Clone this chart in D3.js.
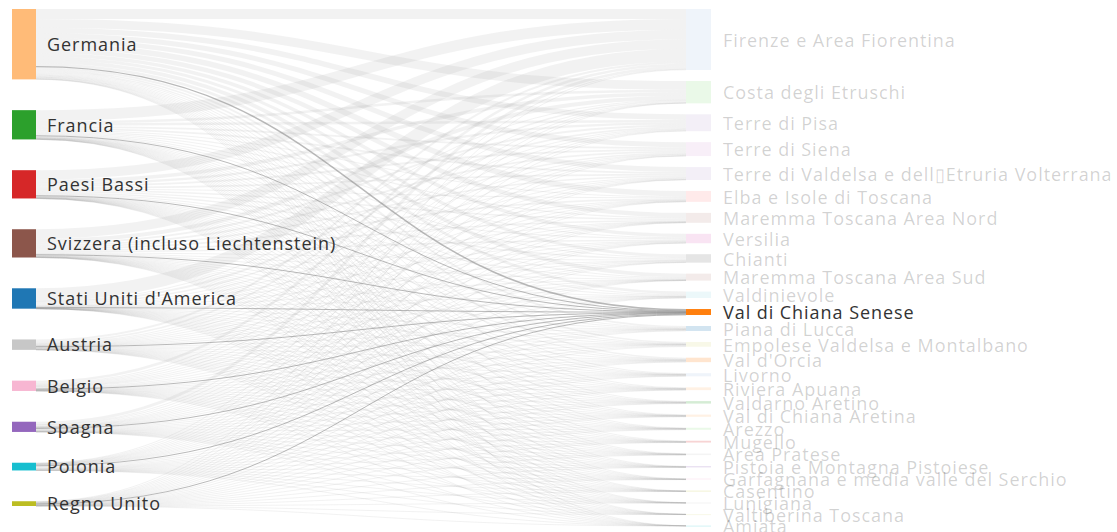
<!DOCTYPE html>
<html><head><meta charset="utf-8">
<script src="https://cdn.jsdelivr.net/npm/d3@7"></script>
<style>
body{margin:0;background:#fff}
svg{display:block}
text{font-family:"Open Sans","Noto Sans",sans-serif;font-size:18px;letter-spacing:0.95px}
</style>
</head><body><svg id="chart" width="1117" height="532"></svg>
<script>
// ---- data ----
const sources = ["Germania","Francia","Paesi Bassi","Svizzera (incluso Liechtenstein)","Stati Uniti d'America","Austria","Belgio","Spagna","Polonia","Regno Unito"];
const sourceColors = ["#ffbb78","#2ca02c","#d62728","#8c564b","#1f77b4","#c7c7c7","#f7b6d2","#9467bd","#17becf","#bcbd22"];
const targets = ["Firenze e Area Fiorentina","Costa degli Etruschi","Terre di Pisa","Terre di Siena","Terre di Valdelsa e dell\u25AFEtruria Volterrana","Elba e Isole di Toscana","Maremma Toscana Area Nord","Versilia","Chianti","Maremma Toscana Area Sud","Valdinievole","Val di Chiana Senese","Piana di Lucca","Empolese Valdelsa e Montalbano","Val d'Orcia","Livorno","Riviera Apuana","Valdarno Aretino","Val di Chiana Aretina","Arezzo","Mugello","Area Pratese","Pistoia e Montagna Pistoiese","Garfagnana e media valle del Serchio","Casentino","Lunigiana","Valtiberina Toscana","Amiata"];
const targetColors = ["#aec7e8","#98df8a","#c5b0d5","#dcb0dc","#c5b0d5","#ff9896","#c49c94","#e377c2","#7f7f7f","#c49c94","#9edae5","#ff7f0e","#1f77b4","#dbdb8d","#ff7f0e","#aec7e8","#ffbb78","#2ca02c","#ffbb78","#98df8a","#d62728","#c7c7c7","#9467bd","#f7b6d2","#bcbd22","#c7c7c7","#dbdb8d","#17becf"];
// flows: one row per source, one column per target
const flowsGermania = [100,89,55,50,50,55,45,35,30,38,26.5,15,18,15,14,9,10,8,7,6,7,5,6,6,4,2.5,2,1.5];
const flowsFrancia  = [110,25,25,18,18,10,12,10,10,8,9,6,5,5,4,3,2,2,2,2,2,1.5,1.5,1,1,0.8,0.7,0.5];
const flowsPaesiBassi = [95,35,22,18,17,8,15,12,15,9,9,5,4,3,3,2,2,2,2,1,1.5,1,1,1,0.5,0.4,0.3,0.3];
const flowsSvizzera = [95,40,20,18,15,17,15,15,8,7,5,5,4,3,4,2,2,2,1.5,1,1,1,1,0.8,0.6,0.5,0.3,0.3];
const flowsUSA      = [130,5,19,15,10,3,2,5,4,1,0.5,2,2,1,2,1,0.5,0.5,0.5,0.5,0.3,0.2,0.2,0.1,0.1,0.05,0.02,0.03];
const flowsAustria  = [20,16,6,5,5,6,3,4,2,2,2,5,3,3,4,3,3,2,2,2,1.5,1.5,1,0.8,0.8,0.5,0.5,0.4];
const flowsBelgio   = [25,7,8,5,8,4,3,7,9,2,6,3,2,2,2,2,1.5,1.5,1,1,1,0.8,0.7,0.5,0.4,0.25,0.2,0.15];
const flowsSpagna   = [30,3,7,8,3,3,1,3,3,1,2,6,4,5,4,4,3,3,2,2,1.2,1.5,1,0.6,0.6,0.4,0.4,0.3];
const flowsPolonia  = [5,3,4,1,1,2,3,2,1,1,3,10,6,8,5,4,3,3,3,3,1.5,2,1,0.8,0.7,0.4,0.3,0.3];
const flowsRegnoUnito = [5,2,4,2,3,2,1,2,3,1,2,3,2,3,3,2,1,1,1,1.5,1,0.5,0.6,0.4,0.3,0.2,0.28,0.22];
const flows = [flowsGermania,flowsFrancia,flowsPaesiBassi,flowsSvizzera,flowsUSA,flowsAustria,flowsBelgio,flowsSpagna,flowsPolonia,flowsRegnoUnito];
const highlighted = "Val di Chiana Senese";

// ---- layout ----
const svg = d3.select("#chart");
const leftX = [12, 36], rightX = [686, 711];
const leftY = [9, 506], rightY = [9, 526];
const rightPad = 11;
const srcTotals = flows.map(r => d3.sum(r));
const tgtTotals = targets.map((t, j) => d3.sum(flows, r => r[j]));
const total = d3.sum(srcTotals);
const ky = (rightY[1] - rightY[0] - (targets.length - 1) * rightPad) / total;
const vScale = d3.scaleLinear().domain([0, total]).range([0, total * ky]);
const leftPad = (leftY[1] - leftY[0] - vScale(total)) / (sources.length - 1);

let y = leftY[0];
const sNodes = sources.map((name, i) => {
  const n = {name, color: sourceColors[i], x0: leftX[0], x1: leftX[1], y0: y, y1: y + vScale(srcTotals[i])};
  y = n.y1 + leftPad; return n;
});
y = rightY[0];
const tNodes = targets.map((name, j) => {
  const n = {name, color: targetColors[j], x0: rightX[0], x1: rightX[1], y0: y, y1: y + vScale(tgtTotals[j])};
  y = n.y1 + rightPad; return n;
});

const links = [];
const sOff = sNodes.map(n => n.y0), tOff = tNodes.map(n => n.y0);
flows.forEach((row, i) => row.forEach((val, j) => {
  const w = vScale(val);
  links.push({w, hl: targets[j] === highlighted,
    x0: sNodes[i].x1, y0: sOff[i] + w / 2, x1: tNodes[j].x0, y1: tOff[j] + w / 2});
  sOff[i] += w; tOff[j] += w;
}));

const linkGen = d3.linkHorizontal().source(d => [d.x0, d.y0]).target(d => [d.x1, d.y1]);

svg.append("g").attr("fill", "none")
  .selectAll("path").data(links.filter(d => !d.hl)).join("path")
  .attr("d", linkGen).attr("stroke", "#999").attr("stroke-opacity", 0.13)
  .attr("stroke-width", d => Math.max(1, d.w));

svg.append("g").attr("fill", "none")
  .selectAll("path").data(links.filter(d => d.hl)).join("path")
  .attr("d", linkGen).attr("stroke", "#8a8a8a").attr("stroke-opacity", 0.6)
  .attr("stroke-width", d => Math.max(1, d.w));

svg.append("g").selectAll("rect").data(sNodes).join("rect")
  .attr("x", d => d.x0).attr("y", d => d.y0).attr("width", d => d.x1 - d.x0)
  .attr("height", d => Math.max(1, d.y1 - d.y0)).attr("fill", d => d.color);

svg.append("g").selectAll("rect").data(tNodes).join("rect")
  .attr("x", d => d.x0).attr("y", d => d.y0).attr("width", d => d.x1 - d.x0)
  .attr("height", d => Math.max(1, d.y1 - d.y0)).attr("fill", d => d.color)
  .attr("fill-opacity", d => d.name === highlighted ? 1 : 0.2);

svg.append("g").selectAll("text").data(sNodes).join("text")
  .attr("x", d => d.x1 + 11).attr("y", d => (d.y0 + d.y1) / 2).attr("dy", "0.38em")
  .attr("fill", "#333").text(d => d.name);

svg.append("g").selectAll("text").data(tNodes).join("text")
  .attr("x", d => d.x1 + 12).attr("y", d => (d.y0 + d.y1) / 2).attr("dy", "0.4em")
  .attr("fill", "#333").attr("fill-opacity", d => d.name === highlighted ? 1 : 0.22)
  .text(d => d.name);
</script>
</body></html>
